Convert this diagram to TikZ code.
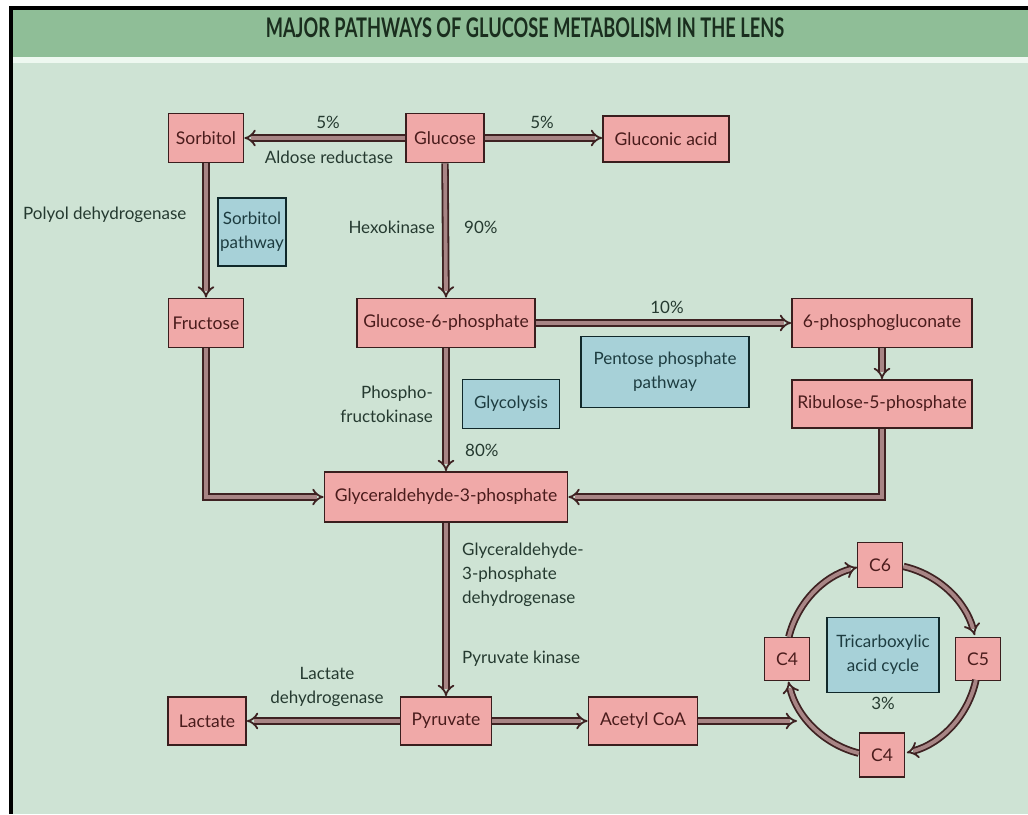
\documentclass[tikz,border=0pt]{standalone}
\usepackage{fontspec}
\setmainfont{Lato}
\newfontfamily\titlefont{Lato}[FakeStretch=0.675]
\usetikzlibrary{arrows.meta,calc}
\definecolor{bggreen}{HTML}{CEE3D4}
\definecolor{bannergreen}{HTML}{8FBE97}
\definecolor{stripe}{HTML}{EEF8F0}
\definecolor{pinkfill}{HTML}{F0A9A8}
\definecolor{pinkdraw}{HTML}{3A1E1E}
\definecolor{bluefill}{HTML}{A7D1D8}
\definecolor{bluedraw}{HTML}{10282A}
\definecolor{tubeout}{HTML}{3E2222}
\definecolor{tubein}{HTML}{A88585}
\definecolor{labeltext}{HTML}{253A30}
\definecolor{boxtext}{HTML}{4A1C1C}
\definecolor{bluetext}{HTML}{1D3C40}
\definecolor{titletext}{HTML}{1A2E1E}
\begin{document}
\begin{tikzpicture}[x=1pt,y=-1pt,
  compound/.style={draw=pinkdraw, fill=pinkfill, line width=1.8pt, text=boxtext, inner sep=0pt, font=\fontsize{17.5}{24}\selectfont},
  pathway/.style={draw=bluedraw, fill=bluefill, line width=1.8pt, text=bluetext, inner sep=0pt, align=center, font=\fontsize{17}{24}\selectfont},
  lbl/.style={text=labeltext, inner sep=0pt, font=\fontsize{17}{24}\selectfont},
  flow/.style={draw=tubeout, line width=1.8pt, double=tubein, double distance=3.8pt, -{Implies}},
  ]
\useasboundingbox (0,0) rectangle (1028,814);
\fill[white] (0,0) rectangle (1028,814);
\fill[bggreen] (12,63) rectangle (1028,814);
\fill[stripe] (12,57) rectangle (1028,63);
\fill[bannergreen] (12,10) rectangle (1028,57);
\fill[black] (9,6) rectangle (1028,10);
\fill[black] (9,6) rectangle (13,814);
\node[text=titletext, inner sep=0pt, font=\titlefont\bfseries\fontsize{27}{30}\selectfont] (title) at (525,28) {MAJOR PATHWAYS OF GLUCOSE METABOLISM IN THE LENS};

% compounds
\node[compound, minimum width=75pt, minimum height=49pt] (sorb) at (206,138) {Sorbitol};
\node[compound, minimum width=78pt, minimum height=49pt] (gluc) at (445,138) {Glucose};
\node[compound, minimum width=126pt, minimum height=46pt] (glac) at (666,139) {Gluconic acid};
\node[compound, minimum width=75pt, minimum height=49pt] (fruc) at (206,323) {Fructose};
\node[compound, minimum width=178pt, minimum height=49pt] (g6p) at (446,323) {Glucose-6-phosphate};
\node[compound, minimum width=180pt, minimum height=49pt] (pgc) at (882,323) {6-phosphogluconate};
\node[compound, minimum width=180pt, minimum height=48pt] (rib) at (882,404) {Ribulose-5-phosphate};
\node[compound, minimum width=243pt, minimum height=50pt] (g3p) at (446,497) {Glyceraldehyde-3-phosphate};
\node[compound, minimum width=78pt, minimum height=48pt] (lact) at (207,721) {Lactate};
\node[compound, minimum width=91pt, minimum height=48pt] (pyr) at (446,721) {Pyruvate};
\node[compound, minimum width=109pt, minimum height=48pt] (acoa) at (643,721) {Acetyl CoA};
\node[compound, minimum width=45pt, minimum height=45pt] (c6) at (880,565) {C6};
\node[compound, minimum width=45pt, minimum height=43pt] (c5) at (978,659) {C5};
\node[compound, minimum width=45pt, minimum height=44pt] (c4b) at (882,755) {C4};
\node[compound, minimum width=45pt, minimum height=43pt] (c4l) at (787,659) {C4};

% pathways
\node[pathway, minimum width=68pt, minimum height=68pt] (sorbpath) at (252,232) {Sorbitol\\pathway};
\node[pathway, minimum width=168pt, minimum height=71pt] (pentose) at (665,372) {Pentose phosphate\\pathway};
\node[pathway, minimum width=97pt, minimum height=49pt] (glyco) at (511,404) {Glycolysis};
\node[pathway, minimum width=112pt, minimum height=75pt] (tca) at (883,655) {Tricarboxylic\\acid cycle};

% labels
\node[lbl] (p5a) at (328,122) {5\%};
\node[lbl] (p5b) at (542,122) {5\%};
\node[lbl] (ald) at (329,157) {Aldose reductase};
\node[lbl, anchor=west] (polyol) at (23,215) {Polyol dehydrogenase};
\node[lbl, anchor=east] (hexo) at (435,227) {Hexokinase};
\node[lbl, anchor=west] (p90) at (464,227) {90\%};
\node[lbl] (p10) at (667,307) {10\%};
\node[lbl, anchor=east, align=right] (pfk) at (433,404) {Phospho-\\fructokinase};
\node[lbl, anchor=west] (p80) at (465,450) {80\%};
\node[lbl, anchor=west, align=left] (g3pdh) at (462,575) {Glyceraldehyde-\\3-phosphate\\dehydrogenase};
\node[lbl, anchor=west] (pk) at (462,659) {Pyruvate kinase};
\node[lbl, align=center] (ldh) at (327,687) {Lactate\\dehydrogenase};
\node[lbl] (p3) at (883,703) {3\%};

% connectors
\coordinate (cyc) at (882,660);
\coordinate (acin) at (797,721);
\draw[flow] (gluc.west) -- (sorb.east);
\draw[flow] (gluc.east) -- (gluc.east -| glac.west);
\draw[flow] (sorb.south) -- (fruc.north);
\draw[flow] (gluc.south) -- (g6p.north);
\draw[flow] (g6p.east) -- (pgc.west);
\draw[flow] (pgc.south) -- (rib.north);
\draw[flow] (g6p.south) -- (g3p.north);
\draw[flow] (fruc.south) |- (g3p.west);
\draw[flow] (rib.south) |- (g3p.east);
\draw[flow] (g3p.south) -- (pyr.north);
\draw[flow] (pyr.west) -- (lact.east);
\draw[flow] (pyr.east) -- (acoa.west);
\draw[flow] (acoa.east) -- (acin);

% cycle arcs (clockwise)
\draw[flow] ([shift={(77:96pt)}]cyc) arc[start angle=77, end angle=15, radius=96pt];
\draw[flow] ([shift={(-12:96pt)}]cyc) arc[start angle=-12, end angle=-75, radius=96pt];
\draw[flow] ([shift={(-104:96pt)}]cyc) arc[start angle=-104, end angle=-167, radius=96pt];
\draw[flow] ([shift={(166:96pt)}]cyc) arc[start angle=166, end angle=105, radius=96pt];
\end{tikzpicture}
\end{document}
